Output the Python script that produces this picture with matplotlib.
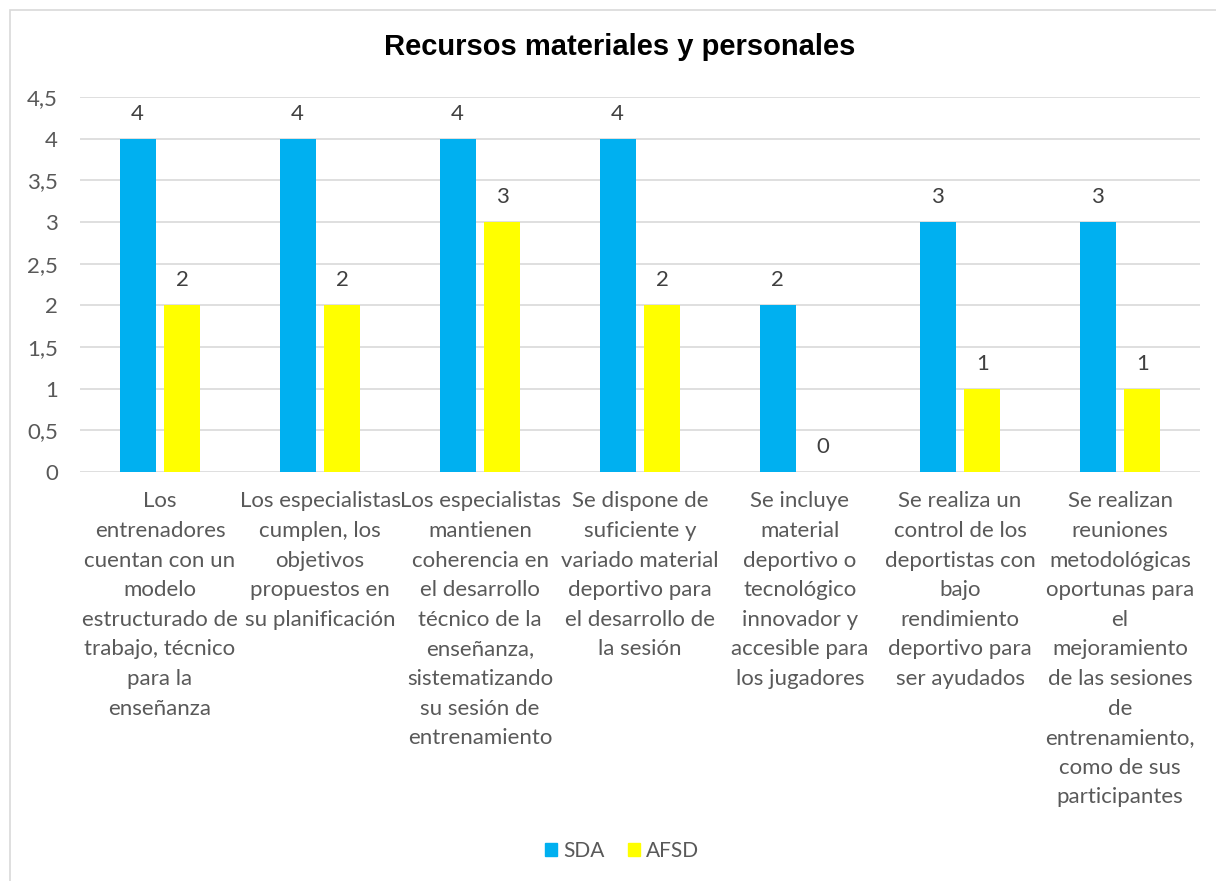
import numpy as np
import matplotlib.pyplot as plt
from matplotlib.patches import Patch, Rectangle

plt.rcParams['font.family'] = ['Lato', 'DejaVu Sans']

categorias = [
    "Los\nentrenadores\ncuentan con un\nmodelo\nestructurado de\ntrabajo, técnico\npara la\nenseñanza",
    "Los especialistas\ncumplen, los\nobjetivos\npropuestos en\nsu planificación",
    "Los especialistas\nmantienen\ncoherencia en\nel desarrollo\ntécnico de la\nenseñanza,\nsistematizando\nsu sesión de\nentrenamiento",
    "Se dispone de\nsuficiente y\nvariado material\ndeportivo para\nel desarrollo de\nla sesión",
    "Se incluye\nmaterial\ndeportivo o\ntecnológico\ninnovador y\naccesible para\nlos jugadores",
    "Se realiza un\ncontrol de los\ndeportistas con\nbajo\nrendimiento\ndeportivo para\nser ayudados",
    "Se realizan\nreuniones\nmetodológicas\noportunas para\nel\nmejoramiento\nde las sesiones\nde\nentrenamiento,\ncomo de sus\nparticipantes",
]
sda = [4, 4, 4, 4, 2, 3, 3]
afsd = [2, 2, 3, 2, 0, 1, 1]
yticks = [0, 0.5, 1, 1.5, 2, 2.5, 3, 3.5, 4, 4.5]

AZUL = '#00b0f0'
AMARILLO = '#ffff00'
GRIS = '#595959'
FS = 16

W, H = 1216, 881
fig = plt.figure(figsize=(W / 100, H / 100), dpi=100)

# marco del grafico
fig.patches.append(Rectangle((10 / W, -0.1), 1.2, 1 - 10 / H + 0.1,
                             transform=fig.transFigure, fill=False,
                             edgecolor='#d9d9d9', linewidth=1.2))

ax = fig.add_axes([80 / W, 1 - 472 / H, 1120 / W, 375 / H])
x = np.arange(len(categorias))
ancho = 0.225
off = 0.14
b1 = ax.bar(x - off, sda, ancho, color=AZUL, zorder=3)
b2 = ax.bar(x + off, afsd, ancho, color=AMARILLO, zorder=3)

for barras, vals in ((b1, sda), (b2, afsd)):
    for b, v in zip(barras, vals):
        ax.annotate(str(v), (b.get_x() + b.get_width() / 2, v),
                    xytext=(0, 18), textcoords='offset points',
                    ha='center', va='center', fontsize=FS, color='#404040')

ax.set_xlim(-0.5, len(categorias) - 0.5)
ax.set_ylim(0, 4.5)
ax.set_yticks(yticks)
ax.set_yticklabels([('%g' % t).replace('.', ',') for t in yticks])
ax.set_xticks(x)
ax.set_xticklabels(categorias, linespacing=1.6)
ax.tick_params(axis='both', length=0, colors=GRIS, labelsize=FS)
ax.tick_params(axis='x', pad=14)
ax.tick_params(axis='y', pad=16)
for lbl in ax.get_xticklabels():
    lbl.set_va('top')
ax.grid(axis='y', color='#d9d9d9', linewidth=1.2, zorder=0)
for s in ax.spines.values():
    s.set_visible(False)

fig.text(620 / W, 1 - 47 / H, 'Recursos materiales y personales',
         family=['Liberation Sans', 'DejaVu Sans'], fontsize=21,
         fontweight='bold', ha='center', va='center', color='black')

handles = [Patch(color=AZUL, label='SDA'), Patch(color=AMARILLO, label='AFSD')]
fig.legend(handles=handles, loc='center', ncol=2,
           bbox_to_anchor=(622 / W, 1 - 851 / H), frameon=False,
           fontsize=15, labelcolor=GRIS, handlelength=0.6,
           handleheight=0.6, handletextpad=0.3, columnspacing=1.1)

fig.savefig('out.png', dpi=100)
